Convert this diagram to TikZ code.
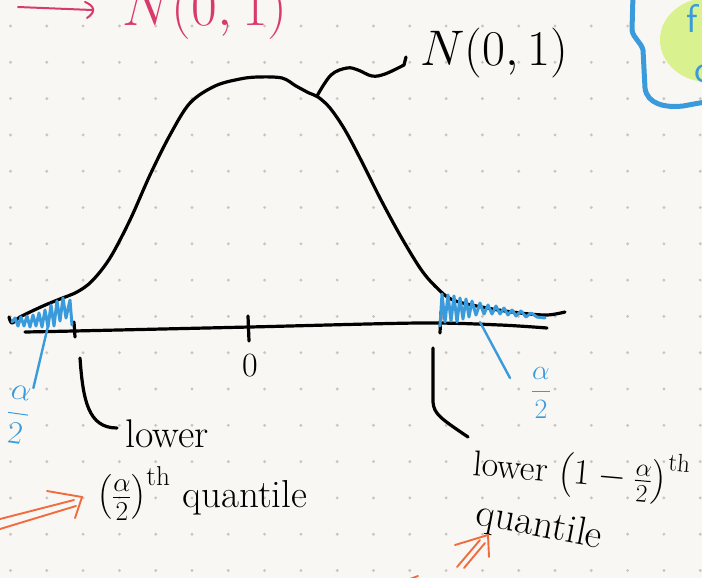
\RequirePackage{fix-cm}
\documentclass[tikz,border=0pt]{standalone}
\usepackage{amsmath}
\definecolor{bgc}{HTML}{F9F7F3}
\definecolor{dotc}{HTML}{C9C5BF}
\definecolor{inkblue}{HTML}{3A9BDC}
\definecolor{inkpink}{HTML}{D93A6E}
\definecolor{inkorange}{HTML}{F26B3F}
\definecolor{inkgreen}{HTML}{D9F18E}
\tikzset{
  ink/.style={line width=3.2pt, line cap=round, line join=round},
  blueink/.style={ink, inkblue, line width=2.8pt},
  orangeink/.style={line width=1.9pt, inkorange, line cap=round, line join=round},
  hand/.style={inner sep=0pt, font=\fontsize{#1}{#1}\selectfont},
}
\begin{document}
\begin{tikzpicture}[x=1pt,y=-1pt]
\fill[bgc] (0,0) rectangle (702,578);
\useasboundingbox (0,0) rectangle (702,578);
% dot grid
\foreach \i in {0,...,19} \foreach \j in {0,...,15}
  \fill[dotc] (10.5+36.3*\i, 26+36.3*\j) circle[radius=1.6pt];

% green blob and blue brace (top right, cut off)
\fill[inkgreen] (708,40) ellipse[x radius=48pt, y radius=42pt];
\node[hand=40, text=inkblue, anchor=base west] (gt) at (686,33) {\sffamily f};
\node[hand=40, text=inkblue, anchor=base west] (go) at (694,82) {\sffamily c};
\draw[ink, inkblue, line width=5pt] (633,-5) -- (632,30) .. controls (633,38) and (641,42) .. (643,50)
  -- (645,88) .. controls (647,104) and (665,108) .. (683,106) -- (705,102);

% pink note (top left, cut off)
\coordinate (pa0) at (18,7);
\coordinate (pa1) at (92,10);
\draw[line width=2pt, inkpink, line cap=round, line join=round] (pa0) -- (pa1);
\draw[line width=2pt, inkpink, line cap=round, line join=round] (85,2) .. controls (95,6) and (96,12) .. (87,18);
\node[hand=56, text=inkpink, anchor=base west] (pinkN) at (122,26) {$N(0,1)$};

% bell curve
\draw[ink] plot[smooth, tension=0.55] coordinates {
 (9,317) (12,323) (20,317) (43,306) (60,299) (77,292) (92,281) (110,258)
 (130,220) (150,175) (170,135) (190,103) (215,86) (240,79) (258,77) (282,78)
 (296,86) (309,93) (318,97) (330,108) (345,130) (362,162) (380,198) (400,235)
 (420,268) (435,286) (453,300) (487,308) (520,313) (547,315) (565,312)};
\coordinate (peak) at (317,96);

% axis
\draw[ink] plot[smooth, tension=0.5] coordinates {(25,332) (74,331) (250,327) (420,323) (500,325) (547,328)};
\coordinate (tk1a) at (74,322); \coordinate (tk1b) at (75,337);
\coordinate (tk2a) at (248,316); \coordinate (tk2b) at (249,341);
\coordinate (tk3a) at (441,312); \coordinate (tk3b) at (440,333);
\draw[ink] (tk1a) -- (tk1b);
\draw[ink] (tk2a) -- (tk2b);
\draw[ink] (tk3a) -- (tk3b);
\node[hand=34, anchor=base] (zero) at (250,376) {0};

% label of the curve
\node[hand=50, anchor=base west] (Nlab) at (420,66) {$N(0,1)$};
\coordinate (ptr) at (406,57);
\draw[ink] plot[smooth, tension=0.6] coordinates {(peak) (331,75) (347,68) (358,70) (372,76) (385,74) (404,65)} -- (ptr);

% blue hatching, left tail
\draw[blueink, line width=3pt] (12,322) -- (15,318) -- (18,326) -- (21,317) -- (24,326) -- (27,316) -- (30,327)
  -- (33,315) -- (36,326) -- (39,313) -- (42,327) -- (45,310) -- (48,327) -- (51,305) -- (54,326) -- (57,301) -- (60,321)
  -- (63,298) -- (66,318) -- (70,300) -- (72,325);
% blue hatching, right tail
\draw[blueink, line width=3pt] (440,326) -- (442,294) -- (445,322) -- (448,295) -- (451,321) -- (454,296)
  -- (457,322) -- (460,298) -- (463,319) -- (466,299) -- (469,317) -- (472,301) -- (476,315)
  -- (480,303) -- (484,314) -- (488,305) -- (492,314) -- (496,306) -- (500,314) -- (504,308) -- (508,315) -- (512,310)
  -- (516,316) -- (521,311) -- (526,317) -- (531,313) -- (537,317) -- (545,318);

% blue alpha/2 labels
\node[hand=32, text=inkblue, rotate=-8] (aL) at (18,415) {$\dfrac{\alpha}{2}$};
\coordinate (hL) at (48,326);
\draw[blueink, line width=2.4pt] (hL) -- (aL.north east);
\node[hand=28, text=inkblue] (aR) at (541,393) {$\dfrac{\alpha}{2}$};
\coordinate (hR) at (480,322);
\draw[blueink, line width=2.4pt] (hR) -- (510,378);

% lower-left quantile label
\coordinate (bL0) at (80,358);
\coordinate (bL1) at (117,428);
\draw[ink] (bL0) .. controls (83,400) and (88,428) .. (bL1);
\node[hand=40, anchor=base west] (lowL) at (125,447) {lower};
\node[hand=39, anchor=base west] (qL) at (97,507) {$\left(\frac{\alpha}{2}\right)^{\mathrm{th}}$\ quantile};

% lower-right quantile label
\coordinate (bR0) at (433,348);
\coordinate (bR1) at (468,437);
\draw[ink] (bR0) -- (433,402) .. controls (434,414) and (440,418) .. (bR1);
\node[hand=36, anchor=base west, rotate=-5] (lowR) at (472,475) {lower $\left(1-\frac{\alpha}{2}\right)^{\mathrm{th}}$};
\node[hand=40, anchor=base west, rotate=-11] (qR) at (474,524) {quantile};

% orange double arrows
\draw[orangeink] (0,519) -- (74,500);
\draw[orangeink] (0,529) -- (76,506);
\draw[orangeink] (47,491) -- (82,497) -- (75,518);
\draw[orangeink] (457,567) -- (480,540);
\draw[orangeink] (464,568) -- (485,543);
\draw[orangeink] (455,545) -- (488,535) -- (489,557);
\draw[orangeink] (410,579) -- (418,576);
\end{tikzpicture}
\end{document}
